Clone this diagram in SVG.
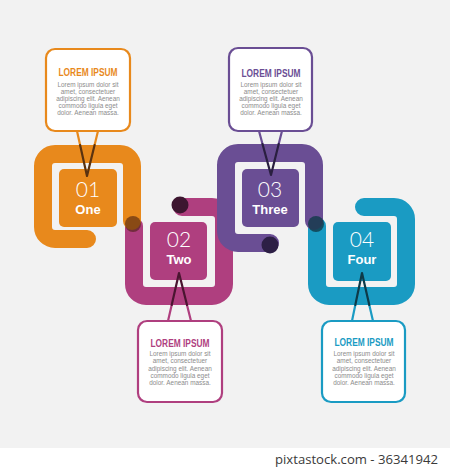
<svg xmlns="http://www.w3.org/2000/svg" width="450" height="469" viewBox="0 0 450 469">
<style>
.rib{fill:none;stroke-width:18;stroke-linecap:round;stroke-linejoin:round}
.co{fill:#fff;stroke-width:2.2;stroke-linejoin:round}
.tl{fill:none;stroke-width:2.2;stroke-linejoin:round;stroke-linecap:round}
.num{font-family:Lato,"Open Sans","Liberation Sans",sans-serif;font-weight:300;font-size:21px;fill:#fff;text-anchor:middle}
.lab{font-family:"Liberation Sans",Arial,sans-serif;font-weight:bold;font-size:13px;fill:#fff;text-anchor:middle}
.ttl{font-family:"Liberation Sans",Arial,sans-serif;font-weight:bold;font-size:10.5px;text-anchor:middle}
.body{font-family:"Liberation Sans",Arial,sans-serif;font-size:6.4px;fill:#8c8c8c;text-anchor:middle}
</style>
<rect x="0" y="0" width="450" height="469" fill="#f2f2f2"/>
<rect x="0" y="448" width="450" height="21" fill="#fff"/>
<text x="438" y="464" font-family="'Open Sans','DejaVu Sans',sans-serif" font-size="12.5" fill="#3a3a3a" text-anchor="end" textLength="163" lengthAdjust="spacingAndGlyphs">pixtastock.com - 36341942</text>

<g id="connectors">
<path class="rib" stroke="#AF3F7F" d="M182,207 H212 A12 12 0 0 1 224,219 V284 A12 12 0 0 1 212,296 H146 A12 12 0 0 1 134,284 V226"/>
<path class="rib" stroke="#E8891C" d="M87,239 H55 A12 12 0 0 1 43,227 V166 A12 12 0 0 1 55,154 H120 A12 12 0 0 1 132,166 V221"/>
<path class="rib" stroke="#1A9BC3" d="M364,207 H394 A12 12 0 0 1 406,219 V284 A12 12 0 0 1 394,296 H329 A12 12 0 0 1 317,284 V226"/>
<path class="rib" stroke="#6A4E94" d="M270,243 H238 A12 12 0 0 1 226,231 V165 A12 12 0 0 1 238,153 H302 A12 12 0 0 1 314,165 V221"/>
<circle cx="133" cy="224" r="8" fill="#4a2010" opacity="0.6"/>
<circle cx="180" cy="205" r="8.5" fill="#3d1630"/>
<circle cx="270" cy="245" r="8.5" fill="#2d1f45"/>
<circle cx="316" cy="224" r="8" fill="#123a48" opacity="0.8"/>
</g>

<g id="node1">
<rect x="59" y="169" width="58" height="58" rx="5" fill="#E8891C"/>
<path class="co" stroke="#E8891C" d="M55,49 H121 A9 9 0 0 1 130,58 V122 A9 9 0 0 1 121,131 H55 A9 9 0 0 1 46,122 V58 A9 9 0 0 1 55,49 Z"/>
<path class="tl" stroke="#E8891C" d="M77,131 L80.1,145 M98,131 L94.6,145"/>
<path class="tl" stroke="#5a3210" d="M80.1,145 L87,176 L94.6,145"/>
<text class="ttl" x="88" y="76" fill="#E8891C" textLength="59" lengthAdjust="spacingAndGlyphs">LOREM IPSUM</text>
<text class="body" x="88" y="86.5">Lorem ipsum dolor sit</text>
<text class="body" x="88" y="93.5">amet, consectetuer</text>
<text class="body" x="88" y="100.5">adipiscing elit. Aenean</text>
<text class="body" x="88" y="107.5">commodo ligula eget</text>
<text class="body" x="88" y="114.5">dolor. Aenean massa.</text>
<text class="num" x="88" y="197">01</text>
<text class="lab" x="88" y="214">One</text>
</g>

<g id="node2">
<rect x="150" y="222" width="57" height="58" rx="5" fill="#AF3F7F"/>
<path class="co" stroke="#AF3F7F" d="M147,321 H213 A9 9 0 0 1 222,330 V393 A9 9 0 0 1 213,402 H147 A9 9 0 0 1 138,393 V330 A9 9 0 0 1 147,321 Z"/>
<path class="tl" stroke="#AF3F7F" d="M168,321 L171.7,305 M191,321 L187,305"/>
<path class="tl" stroke="#4a1530" d="M171.7,305 L179,273 L187,305"/>
<text class="ttl" x="180" y="347" fill="#AF3F7F" textLength="59" lengthAdjust="spacingAndGlyphs">LOREM IPSUM</text>
<text class="body" x="180" y="356">Lorem ipsum dolor sit</text>
<text class="body" x="180" y="363.3">amet, consectetuer</text>
<text class="body" x="180" y="370.6">adipiscing elit. Aenean</text>
<text class="body" x="180" y="377.9">commodo ligula eget</text>
<text class="body" x="180" y="385.2">dolor. Aenean massa.</text>
<text class="num" x="179" y="246.5">02</text>
<text class="lab" x="179" y="263.5">Two</text>
</g>

<g id="node3">
<rect x="242" y="169" width="57" height="58" rx="5" fill="#6A4E94"/>
<path class="co" stroke="#6A4E94" d="M238,48 H303 A9 9 0 0 1 312,57 V122 A9 9 0 0 1 303,131 H238 A9 9 0 0 1 229,122 V57 A9 9 0 0 1 238,48 Z"/>
<path class="tl" stroke="#6A4E94" d="M259,131 L262.5,144 M282,131 L278.7,144"/>
<path class="tl" stroke="#2a1f40" d="M262.5,144 L271,175 L278.7,144"/>
<text class="ttl" x="271" y="77" fill="#6A4E94" textLength="59" lengthAdjust="spacingAndGlyphs">LOREM IPSUM</text>
<text class="body" x="271" y="86.5">Lorem ipsum dolor sit</text>
<text class="body" x="271" y="93.5">amet, consectetuer</text>
<text class="body" x="271" y="100.5">adipiscing elit. Aenean</text>
<text class="body" x="271" y="107.5">commodo ligula eget</text>
<text class="body" x="271" y="114.5">dolor. Aenean massa.</text>
<text class="num" x="270" y="197">03</text>
<text class="lab" x="270" y="214">Three</text>
</g>

<g id="node4">
<rect x="333" y="222" width="58" height="59" rx="5" fill="#1A9BC3"/>
<path class="co" stroke="#1A9BC3" d="M331,321 H396 A9 9 0 0 1 405,330 V393 A9 9 0 0 1 396,402 H331 A9 9 0 0 1 322,393 V330 A9 9 0 0 1 331,321 Z"/>
<path class="tl" stroke="#1A9BC3" d="M352,321 L355.3,305 M373,321 L369.3,305"/>
<path class="tl" stroke="#0e3a48" d="M355.3,305 L362,273 L369.3,305"/>
<text class="ttl" x="364" y="346" fill="#1A9BC3" textLength="59" lengthAdjust="spacingAndGlyphs">LOREM IPSUM</text>
<text class="body" x="364" y="356">Lorem ipsum dolor sit</text>
<text class="body" x="364" y="363.3">amet, consectetuer</text>
<text class="body" x="364" y="370.6">adipiscing elit. Aenean</text>
<text class="body" x="364" y="377.9">commodo ligula eget</text>
<text class="body" x="364" y="385.2">dolor. Aenean massa.</text>
<text class="num" x="362" y="246.5">04</text>
<text class="lab" x="362" y="263.5">Four</text>
</g>
</svg>
